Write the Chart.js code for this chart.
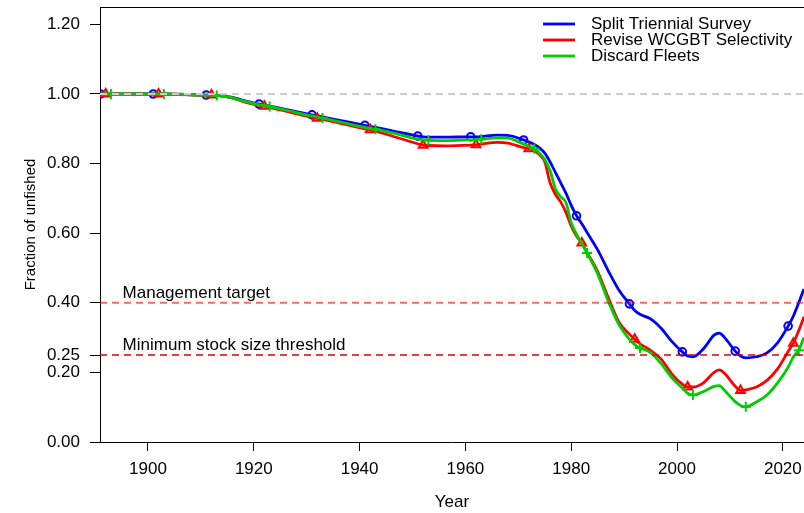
<!DOCTYPE html>
<html>
<head>
<meta charset="utf-8">
<script src="https://cdn.jsdelivr.net/npm/chart.js@4.4.1/dist/chart.umd.min.js"></script>
<style>
  html, body { margin: 0; padding: 0; background: #fff; }
  #wrap { width: 804px; height: 513px; }
</style>
</head>
<body>
<div id="wrap"><canvas id="chart" width="804" height="513"></canvas></div>
<script>
// Fraction of unfished spawning output by model run
const years = [1891, 1892, 1893, 1901, 1902, 1903, 1911, 1912, 1913, 1916, 1918,
    1921, 1922, 1923, 1926, 1931, 1932, 1933, 1936, 1941, 1942, 1943, 1946,
    1951, 1952, 1953, 1956, 1961, 1962, 1963, 1966, 1968, 1971, 1972, 1973, 1974,
    1975, 1976, 1977, 1978, 1979, 1980, 1981, 1982, 1983, 1985, 1987, 1989,
    1991, 1992, 1993, 1995, 1997, 1999, 2001, 2002, 2003, 2005, 2007, 2008, 2009,
    2011, 2012, 2013, 2015, 2017, 2019, 2021, 2022, 2023, 2024];

const splitTriennial = [1.0, 1.0, 1.0, 1.0, 1.0, 1.0, 0.997, 0.997, 0.996, 0.990, 0.982,
    0.971, 0.968, 0.965, 0.956, 0.940, 0.937, 0.934, 0.925, 0.910, 0.907, 0.904, 0.895,
    0.879, 0.877, 0.876, 0.876, 0.877, 0.877, 0.878, 0.882, 0.881, 0.868, 0.862, 0.855, 0.845,
    0.830, 0.805, 0.775, 0.745, 0.715, 0.680, 0.650, 0.627, 0.602, 0.552, 0.492, 0.437,
    0.397, 0.378, 0.367, 0.354, 0.327, 0.289, 0.259, 0.247, 0.245, 0.268, 0.307, 0.313, 0.300,
    0.261, 0.247, 0.242, 0.245, 0.256, 0.285, 0.333, 0.362, 0.400, 0.440];

const reviseWCGBT = [1.0, 1.0, 1.0, 1.0, 1.0, 1.0, 0.997, 0.997, 0.996, 0.988, 0.978,
    0.967, 0.965, 0.961, 0.951, 0.933, 0.930, 0.927, 0.917, 0.900, 0.897, 0.893, 0.880,
    0.857, 0.853, 0.852, 0.851, 0.853, 0.854, 0.856, 0.861, 0.859, 0.846, 0.843, 0.837, 0.825,
    0.805, 0.745, 0.712, 0.690, 0.660, 0.620, 0.592, 0.572, 0.545, 0.490, 0.415, 0.345,
    0.310, 0.295, 0.282, 0.263, 0.238, 0.196, 0.166, 0.158, 0.158, 0.170, 0.200, 0.207, 0.197,
    0.160, 0.148, 0.150, 0.158, 0.177, 0.210, 0.260, 0.284, 0.320, 0.360];

const discardFleets = [1.0, 1.0, 1.0, 1.0, 1.0, 1.0, 0.997, 0.997, 0.996, 0.989, 0.980,
    0.969, 0.967, 0.964, 0.954, 0.937, 0.934, 0.931, 0.921, 0.904, 0.901, 0.899, 0.889,
    0.870, 0.868, 0.867, 0.866, 0.868, 0.869, 0.870, 0.874, 0.873, 0.856, 0.850, 0.843, 0.830,
    0.812, 0.780, 0.728, 0.705, 0.688, 0.630, 0.597, 0.570, 0.543, 0.483, 0.405, 0.338,
    0.295, 0.280, 0.270, 0.257, 0.225, 0.185, 0.155, 0.140, 0.135, 0.145, 0.160, 0.162, 0.148,
    0.116, 0.105, 0.101, 0.115, 0.135, 0.170, 0.215, 0.245, 0.264, 0.300];

const seriesNames = ['Split Triennial Survey', 'Revise WCGBT Selectivity', 'Discard Fleets'];

// marker years (every 10 years, staggered per model)
const circleYears = [1891, 1901, 1911, 1921, 1931, 1941, 1951, 1961, 1971, 1981, 1991, 2001, 2011, 2021];
const triangleYears = [1892, 1902, 1912, 1922, 1932, 1942, 1952, 1962, 1972, 1982, 1992, 2002, 2012, 2022];
const plusYears = [1893, 1903, 1913, 1923, 1933, 1943, 1953, 1963, 1973, 1983, 1993, 2003, 2013, 2023];

const xTickValues = [1900, 1920, 1940, 1960, 1980, 2000, 2020];
const yTickValues = [0, 0.2, 0.25, 0.4, 0.6, 0.8, 1.0, 1.2];

const unfishedLevel = 1.0;
const targetLevel = 0.40;
const thresholdLevel = 0.25;
const targetLabel = 'Management target';
const thresholdLabel = 'Minimum stock size threshold';

const X_MIN = 1890.93;
const X_MAX = 2024.0;
const FONT = '"Liberation Sans", Arial, sans-serif';

function toPoints(values) {
    return years.map((yr, i) => ({ x: yr, y: values[i] }));
}

function hLine(level) {
    return [{ x: X_MIN, y: level }, { x: X_MAX, y: level }];
}

function markerRadius(markYears, r) {
    return function(ctx) {
        if (!ctx.raw) return 0;
        return markYears.includes(ctx.raw.x) ? r : 0;
    };
}

function seriesDataset(label, values, color, style, markYears, r) {
    return {
        label: label,
        data: toPoints(values),
        borderColor: color,
        borderWidth: 2.8,
        backgroundColor: color,
        cubicInterpolationMode: 'monotone',
        pointStyle: style,
        pointRadius: markerRadius(markYears, r),
        pointHoverRadius: 0,
        pointBorderColor: color,
        pointBackgroundColor: 'rgba(0,0,0,0)',
        pointBorderWidth: 2,
        fill: false
    };
}

function refDataset(level, color, width, dash) {
    return {
        label: 'ref',
        data: hLine(level),
        borderColor: color,
        borderWidth: width,
        borderDash: dash,
        pointRadius: 0,
        pointHoverRadius: 0,
        fill: false,
        isRef: true
    };
}

// first dataset draws on top
const datasets = [
    refDataset(unfishedLevel, '#cccccc', 2, [7, 5]),
    refDataset(targetLevel, 'rgba(255,0,0,0.6)', 2, [7, 5]),
    refDataset(thresholdLevel, '#e00000', 1.5, [7, 5]),
    seriesDataset(seriesNames[2], discardFleets, '#00cd00', 'cross', plusYears, 5),
    seriesDataset(seriesNames[1], reviseWCGBT, '#ff0000', 'triangle', triangleYears, 5),
    seriesDataset(seriesNames[0], splitTriennial, '#0000ff', 'circle', circleYears, 3.8)
];

// top border, threshold labels and legend
const decorPlugin = {
    id: 'decor',
    afterDatasetsDraw(chart) {
        const { ctx, chartArea, scales } = chart;
        ctx.save();
        ctx.strokeStyle = '#000';
        ctx.lineWidth = 1;
        ctx.beginPath();
        ctx.moveTo(chartArea.left, chartArea.top + 0.5);
        ctx.lineTo(chartArea.right, chartArea.top + 0.5);
        ctx.stroke();

        ctx.fillStyle = '#000';
        ctx.font = '17px ' + FONT;
        ctx.textAlign = 'left';
        ctx.textBaseline = 'alphabetic';
        const tx = scales.x.getPixelForValue(1895.2);
        ctx.fillText(targetLabel, tx, scales.y.getPixelForValue(targetLevel) - 5);
        ctx.fillText(thresholdLabel, tx, scales.y.getPixelForValue(thresholdLevel) - 5);

        // legend
        const items = chart.data.datasets.filter(d => !d.isRef).reverse();
        ctx.textBaseline = 'middle';
        items.forEach((d, i) => {
            const y = 24 + i * 16;
            ctx.strokeStyle = d.borderColor;
            ctx.lineWidth = 2.8;
            ctx.beginPath();
            ctx.moveTo(543, y);
            ctx.lineTo(575, y);
            ctx.stroke();
            ctx.fillStyle = '#000';
            ctx.fillText(d.label, 591, y);
        });
        ctx.restore();
    }
};

new Chart(document.getElementById('chart'), {
    type: 'line',
    data: { datasets: datasets },
    options: {
        responsive: false,
        animation: false,
        events: [],
        layout: { autoPadding: false, padding: { left: 0, right: 0, top: 7, bottom: 0 } },
        plugins: {
            legend: { display: false },
            tooltip: { enabled: false }
        },
        scales: {
            x: {
                type: 'linear',
                min: X_MIN,
                max: X_MAX,
                afterFit: scale => {
                    scale.height = 71;
                    scale.paddingLeft = 0;
                    scale.paddingRight = 0;
                },
                afterBuildTicks: scale => { scale.ticks = xTickValues.map(v => ({ value: v })); },
                ticks: {
                    autoSkip: false,
                    maxRotation: 0,
                    padding: 8,
                    color: '#000',
                    font: { family: FONT, size: 17 },
                    callback: v => String(v)
                },
                grid: { drawOnChartArea: false, drawTicks: true, tickLength: 9, color: '#000' },
                border: { display: true, color: '#000', width: 1 },
                title: {
                    display: true,
                    text: 'Year',
                    color: '#000',
                    font: { family: FONT, size: 17 },
                    padding: { top: 0, bottom: 0 }
                }
            },
            y: {
                min: 0,
                max: 1.25,
                afterFit: scale => {
                    scale.width = 100;
                    scale.paddingTop = 0;
                    scale.paddingBottom = 0;
                },
                afterBuildTicks: scale => { scale.ticks = yTickValues.map(v => ({ value: v })); },
                ticks: {
                    autoSkip: false,
                    padding: 10,
                    color: '#000',
                    font: { family: FONT, size: 17 },
                    callback: v => v.toFixed(2)
                },
                grid: { drawOnChartArea: false, drawTicks: true, tickLength: 10, color: '#000' },
                border: { display: true, color: '#000', width: 1 },
                title: {
                    display: true,
                    text: 'Fraction of unfished',
                    color: '#000',
                    font: { family: FONT, size: 15 },
                    padding: { top: 22, bottom: 0 }
                }
            }
        }
    },
    plugins: [decorPlugin]
});
</script>
</body>
</html>
